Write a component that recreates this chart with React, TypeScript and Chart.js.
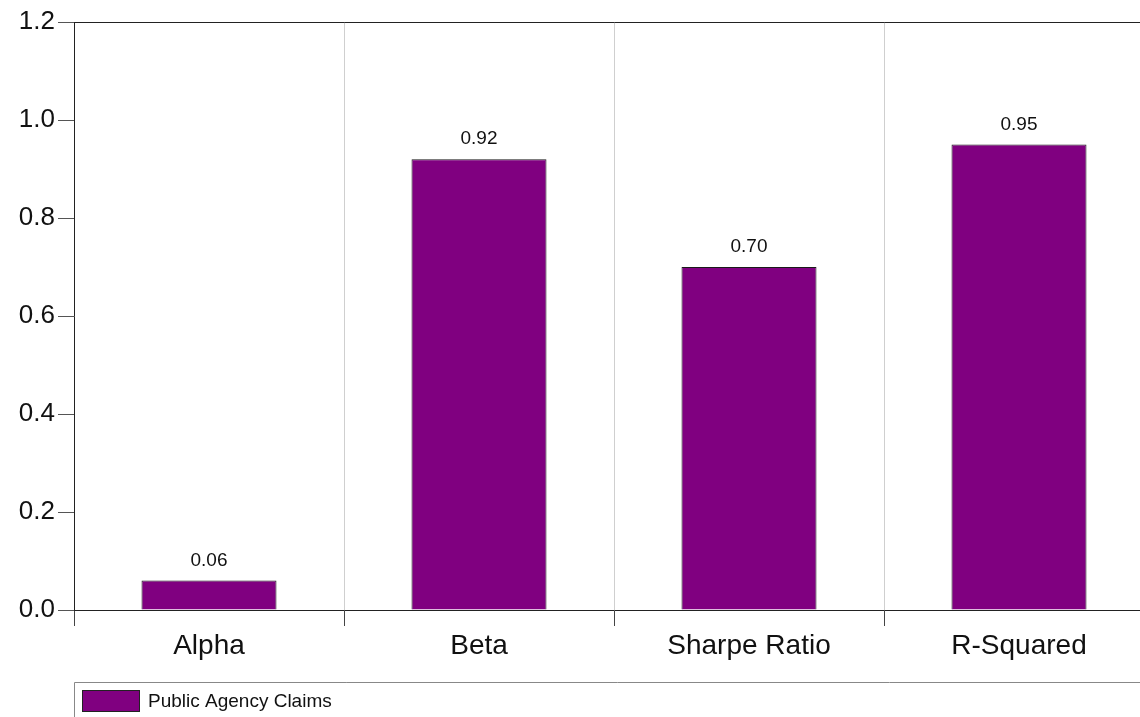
import React, { useEffect, useRef } from "react";
import { Chart, registerables } from "chart.js";

Chart.register(...registerables);

const categories = ["Alpha", "Beta", "Sharpe Ratio", "R-Squared"];
const values = [0.06, 0.92, 0.7, 0.95];
const seriesLabel = "Public Agency Claims";
const yMin = 0;
const yMax = 1.2;
const yStep = 0.2;

const FONT = "'Liberation Sans', Arial, Helvetica, sans-serif";
const BAR_COLOR = "#800080";

const valueLabelPlugin = {
  id: "valueLabels",
  afterDatasetsDraw(chart: any) {
    const ctx = chart.ctx;
    const meta = chart.getDatasetMeta(0);
    ctx.save();
    ctx.font = `19px ${FONT}`;
    ctx.fillStyle = "#111";
    ctx.textAlign = "center";
    ctx.textBaseline = "alphabetic";
    meta.data.forEach((bar: any, i: number) => {
      const v = chart.data.datasets[0].data[i] as number;
      ctx.fillText(v.toFixed(2), bar.x, bar.y - 15);
    });
    ctx.restore();
  },
};

const legendBoxPlugin = {
  id: "legendBox",
  afterDraw(chart: any) {
    const ctx = chart.ctx;
    const left = chart.chartArea.left;
    const top = 682;
    ctx.save();
    ctx.strokeStyle = "#888";
    ctx.lineWidth = 1;
    ctx.beginPath();
    ctx.moveTo(left + 0.5, chart.height + 2);
    ctx.lineTo(left + 0.5, top + 0.5);
    ctx.lineTo(chart.width + 2, top + 0.5);
    ctx.stroke();
    const ds = chart.data.datasets[0];
    ctx.fillStyle = ds.backgroundColor;
    ctx.fillRect(left + 8, 690, 58, 22);
    ctx.strokeStyle = "#222";
    ctx.strokeRect(left + 8.5, 690.5, 57, 21);
    ctx.fillStyle = "#111";
    ctx.font = `19px ${FONT}`;
    ctx.textAlign = "left";
    ctx.textBaseline = "middle";
    ctx.fillText(ds.label, left + 74, 702);
    ctx.restore();
  },
};

export default function App() {
  const ref = useRef<HTMLCanvasElement | null>(null);

  useEffect(() => {
    if (!ref.current) return;
    const chart = new Chart(ref.current, {
      type: "bar",
      data: {
        labels: categories,
        datasets: [
          {
            label: seriesLabel,
            data: values,
            backgroundColor: BAR_COLOR,
            borderColor: "#1a1a1a",
            borderWidth: 1,
            categoryPercentage: 1,
            barPercentage: 0.5,
          },
        ],
      },
      options: {
        responsive: false,
        animation: false,
        layout: { padding: { left: 0, right: 6, top: 22, bottom: 47 } },
        plugins: {
          legend: { display: false },
          tooltip: { enabled: false },
          title: { display: false },
        },
        scales: {
          x: {
            offset: true,
            grid: {
              offset: true,
              color: "#cfcfcf",
              tickColor: "#444",
              tickLength: 16,
              drawOnChartArea: true,
            },
            border: { color: "#222", width: 1 },
            ticks: {
              color: "#111",
              font: { family: FONT, size: 28 },
              padding: 3,
              maxRotation: 0,
            },
            afterFit(scale: any) {
              scale.height = 60;
            },
          },
          y: {
            min: yMin,
            max: yMax,
            grid: {
              color: (c: any) =>
                c.tick && Math.abs(c.tick.value - yMax) < 1e-6 ? "#222" : "rgba(0,0,0,0)",
              tickColor: "#555",
              tickLength: 16,
            },
            border: { color: "#222", width: 1 },
            ticks: {
              stepSize: yStep,
              color: "#111",
              font: { family: FONT, size: 26 },
              padding: 3,
              callback: (v: any) => Number(v).toFixed(1),
            },
            afterFit(scale: any) {
              scale.width = 74;
            },
          },
        },
      },
      plugins: [valueLabelPlugin, legendBoxPlugin],
    });
    return () => chart.destroy();
  }, []);

  return (
    <div
      style={{
        position: "fixed",
        left: 0,
        top: 0,
        width: 1140,
        height: 717,
        overflow: "hidden",
        background: "#fff",
      }}
    >
      <canvas ref={ref} width={1160} height={717} style={{ display: "block" }} />
    </div>
  );
}
